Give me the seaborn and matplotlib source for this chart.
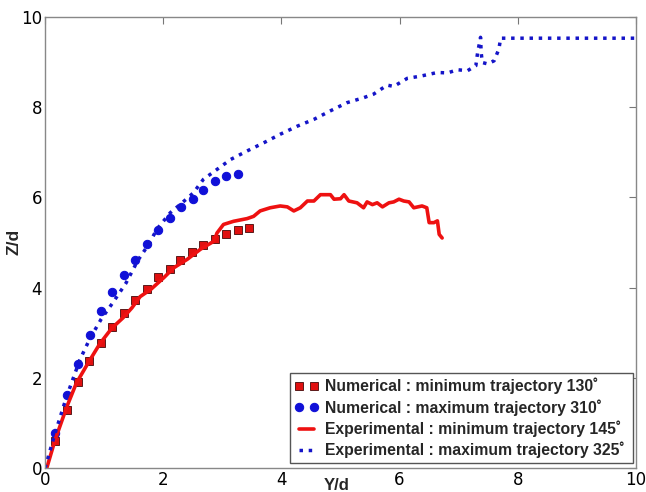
import numpy as np
import pandas as pd
import matplotlib
matplotlib.use('Agg')
import matplotlib.pyplot as plt
import seaborn as sns

# numerical results (markers)
num_min_y = [0.17, 0.37, 0.55, 0.75, 0.94, 1.14, 1.34, 1.53, 1.72, 1.92, 2.11, 2.29, 2.49, 2.68, 2.88, 3.07, 3.27, 3.46]
num_min_z = [0.60, 1.28, 1.90, 2.38, 2.78, 3.12, 3.44, 3.73, 3.97, 4.23, 4.41, 4.61, 4.78, 4.94, 5.07, 5.19, 5.28, 5.33]
num_max_y = [0.17, 0.37, 0.56, 0.76, 0.94, 1.14, 1.34, 1.53, 1.72, 1.92, 2.11, 2.30, 2.50, 2.68, 2.88, 3.07, 3.27]
num_max_z = [0.77, 1.62, 2.31, 2.96, 3.48, 3.90, 4.28, 4.61, 4.97, 5.27, 5.55, 5.79, 5.97, 6.16, 6.36, 6.47, 6.52]

# experimental trajectories (lines)
exp_min_y = [0.0, 0.03, 0.17, 0.37, 0.53, 0.73, 0.93, 1.13, 1.32, 1.47, 1.61, 1.79, 2.01, 2.18, 2.41, 2.63,
             2.86, 2.91, 3.02, 3.19, 3.42, 3.53, 3.64, 3.81, 3.98, 4.10, 4.21, 4.32, 4.44, 4.55, 4.66, 4.83,
             4.89, 5.00, 5.06, 5.14, 5.28, 5.39, 5.45, 5.54, 5.62, 5.71, 5.82, 5.90, 5.99, 6.07, 6.16, 6.24,
             6.38, 6.46, 6.50, 6.58, 6.64, 6.67, 6.72]
exp_min_z = [0.0, 0.0, 0.62, 1.36, 1.88, 2.33, 2.76, 3.10, 3.33, 3.55, 3.80, 3.96, 4.22, 4.44, 4.63, 4.85,
             5.03, 5.21, 5.40, 5.47, 5.53, 5.58, 5.70, 5.77, 5.81, 5.79, 5.70, 5.77, 5.92, 5.92, 6.06, 6.06,
             5.96, 5.97, 6.06, 5.92, 5.88, 5.77, 5.90, 5.84, 5.88, 5.79, 5.88, 5.90, 5.96, 5.92, 5.90, 5.77,
             5.81, 5.77, 5.44, 5.44, 5.48, 5.18, 5.10]
exp_max_y = [0.0, 0.17, 0.37, 0.59, 0.76, 0.95, 1.15, 1.37, 1.57, 1.77, 1.89, 2.12, 2.32, 2.51, 2.68, 2.91,
             3.14, 3.42, 3.70, 3.98, 4.27, 4.55, 4.83, 5.11, 5.39, 5.56, 5.79, 5.90, 6.13, 6.36, 6.64, 6.81,
             6.98, 7.15, 7.29, 7.32, 7.37, 7.38, 7.40, 7.49, 7.60, 7.68, 7.71, 10.0]
exp_max_z = [0.0, 0.77, 1.60, 2.40, 2.87, 3.30, 3.67, 4.10, 4.60, 4.99, 5.29, 5.66, 5.88, 6.10, 6.40, 6.62,
             6.84, 7.03, 7.21, 7.40, 7.58, 7.73, 7.92, 8.10, 8.21, 8.29, 8.49, 8.46, 8.64, 8.69, 8.77, 8.76,
             8.83, 8.81, 8.92, 9.21, 9.55, 9.21, 8.99, 8.96, 9.03, 9.29, 9.53, 9.53]

ticks = [0, 2, 4, 6, 8, 10]

labels = [u'Numerical : minimum trajectory 130\u02da',
          u'Numerical : maximum trajectory 310\u02da',
          u'Experimental : minimum trajectory 145\u02da',
          u'Experimental : maximum trajectory 325\u02da']

sns.set_style('white')
plt.rcParams['font.family'] = ['DejaVu Sans']

fig = plt.figure(figsize=(6.46, 4.92), dpi=100)
ax = fig.add_axes([45/646, 1-468/492, (636-45)/646, (468-17)/492])

df1 = pd.DataFrame({'y': num_min_y, 'z': num_min_z})
df2 = pd.DataFrame({'y': num_max_y, 'z': num_max_z})
df3 = pd.DataFrame({'y': exp_min_y, 'z': exp_min_z})
df4 = pd.DataFrame({'y': exp_max_y, 'z': exp_max_z})

sns.lineplot(data=df1, x='y', y='z', ax=ax, sort=False, estimator=None, linestyle='', marker='s',
             markersize=5.2, color='#e01010', markeredgecolor='#5a1a1a', markeredgewidth=0.7, label=labels[0])
sns.lineplot(data=df2, x='y', y='z', ax=ax, sort=False, estimator=None, linestyle='', marker='o',
             markersize=6, color='#1010d8', markeredgecolor='#1010d8', label=labels[1])
sns.lineplot(data=df3, x='y', y='z', ax=ax, sort=False, estimator=None, color='#ee1111',
             linewidth=2.6, label=labels[2])
sns.lineplot(data=df4, x='y', y='z', ax=ax, sort=False, estimator=None, color='#1414c8',
             linewidth=2.5, linestyle=':', label=labels[3])

ax.set_xlim(0, 10)
ax.set_ylim(0, 10)
ax.set_xticks(ticks)
ax.set_yticks(ticks)
ax.set_xticklabels([str(t) for t in ticks])
ax.set_yticklabels([str(t) for t in ticks])
ax.tick_params(direction='in', length=5, width=0.8, colors='#777777', labelcolor='black',
               labelsize=12, top=True, right=True, pad=2)
for s in ax.spines.values():
    s.set_color('#888888')
    s.set_linewidth(1.0)

ax.set_xlabel('Y/d', fontsize=12, fontweight='bold', family=['Liberation Sans', 'DejaVu Sans'])
ax.set_ylabel('Z/d', fontsize=12.5, fontweight='bold', family=['Liberation Sans', 'DejaVu Sans'])
ax.xaxis.set_label_coords((337-45)/591, -(478-468)/451)
ax.yaxis.set_label_coords(-(45-21)/591, (468-242)/451)

# legend box spans roughly x 290..633, y 377..463 px
leg = ax.legend(loc='lower left', bbox_to_anchor=((290-45)/591, (468-463)/451, (633-290)/591, 0.1),
                mode='expand', borderaxespad=0, numpoints=2, handlelength=1.5, handletextpad=0.4,
                labelspacing=0.3, borderpad=0.3, fancybox=False,
                framealpha=1, edgecolor='#555555',
                prop={'family': ['Liberation Sans', 'DejaVu Sans'], 'weight': 'bold', 'size': 11.3})
leg.get_frame().set_linewidth(1.0)

plt.savefig('out.png', dpi=100)
